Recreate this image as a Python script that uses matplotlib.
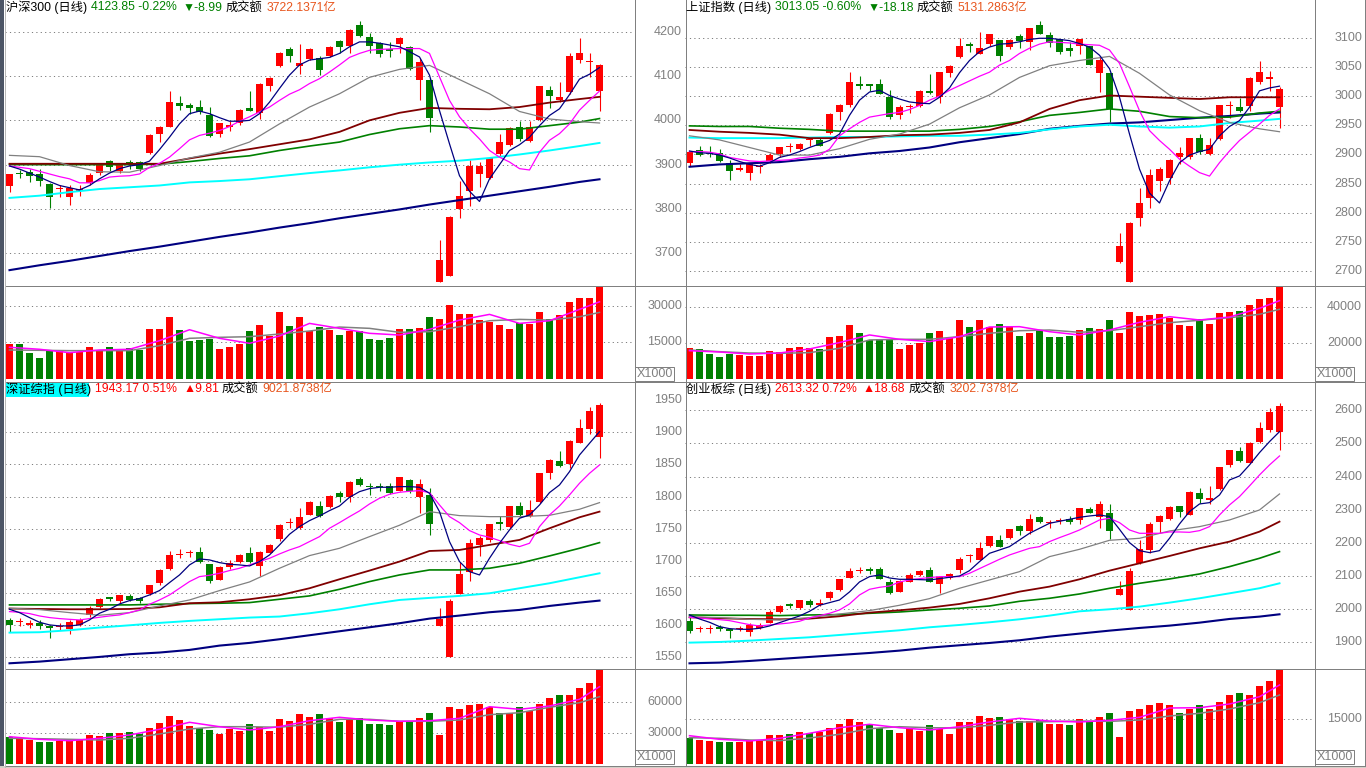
import numpy as np
import matplotlib
matplotlib.use('Agg')
import matplotlib.pyplot as plt
from matplotlib.lines import Line2D
from matplotlib.patches import Rectangle
from matplotlib.transforms import blended_transform_factory

plt.rcParams['font.family'] = ['Liberation Sans', 'Noto Sans CJK SC', 'DejaVu Sans']

W, H = 1366, 768

# sample positions (candle index) for the slow moving-average lines
ma_idx = [0, 3, 6, 9, 12, 15, 18, 21, 24, 27, 30, 33, 36, 39, 42, 45, 48, 51, 54, 57, 59]

# ---------------- 沪深300 ----------------
hs_open = [3851, 3882, 3883, 3878, 3857, 3845, 3827, 3840, 3859, 3882, 3908, 3886, 3905, 3906, 3927, 3970, 3986, 4039, 4034, 4031,
           4013, 3970, 3986, 3993, 4028, 4016, 4077, 4123, 4160, 4122, 4138, 4140, 4145, 4179, 4168, 4215, 4189, 4175, 4162, 4172,
           4166, 4092, 4092, 3636, 3649, 3800, 3840, 3878, 3870, 3924, 3945, 3986, 3954, 4001, 4069, 4046, 4064, 4136, 4131, 4066]
hs_high = [3879, 3888, 3891, 3891, 3859, 3853, 3853, 3855, 3882, 3903, 3910, 3903, 3910, 3908, 3969, 3988, 4067, 4056, 4039, 4047,
           4031, 3995, 3999, 4025, 4066, 4084, 4098, 4154, 4165, 4172, 4163, 4145, 4168, 4181, 4206, 4225, 4197, 4177, 4177, 4187,
           4167, 4141, 4095, 3729, 3785, 3863, 3910, 3907, 3917, 3969, 3984, 3999, 3999, 4078, 4077, 4086, 4152, 4186, 4152, 4126]
hs_low = [3838, 3870, 3860, 3851, 3802, 3827, 3809, 3829, 3855, 3877, 3885, 3882, 3891, 3885, 3925, 3952, 3985, 4024, 4015, 4015,
          3963, 3963, 3975, 3990, 4020, 4002, 4067, 4121, 4132, 4104, 4136, 4103, 4143, 4151, 4152, 4187, 4153, 4143, 4143, 4151,
          4113, 4045, 3973, 3635, 3648, 3780, 3806, 3850, 3868, 3917, 3942, 3954, 3952, 3999, 4028, 4041, 4060, 4130, 4098, 4022]
hs_close = [3878, 3878, 3874, 3863, 3827, 3848, 3848, 3846, 3877, 3901, 3895, 3899, 3901, 3891, 3967, 3986, 4041, 4033, 4028, 4018,
            3965, 3993, 3990, 4024, 4022, 4081, 4096, 4152, 4145, 4130, 4161, 4113, 4166, 4166, 4204, 4190, 4168, 4149, 4157, 4185,
            4115, 4131, 4005, 3686, 3783, 3829, 3897, 3897, 3914, 3952, 3983, 3959, 3986, 4077, 4056, 4052, 4145, 4151, 4133, 4124]
hs_vol = [14300, 14300, 10600, 8600, 11700, 11300, 11000, 11000, 13100, 11600, 13100, 12100, 12700, 11900, 20400, 20400, 25300, 20000, 15500, 15900,
          16300, 12300, 13100, 14300, 19600, 22100, 17600, 27400, 21700, 25300, 19600, 21300, 20000, 18000, 19800, 19800, 16300, 15900, 16800, 20400,
          20400, 20800, 25300, 24500, 30200, 26600, 26600, 24100, 23300, 22100, 20400, 22800, 22500, 27400, 24500, 26200, 31500, 33100, 33100, 37600]
hs_ma5 = [3897, 3890, 3881, 3872, 3862, 3853, 3848, 3843, 3853, 3868, 3881, 3891, 3897, 3900, 3908, 3934, 3962, 3992, 4015, 4021,
          4015, 4006, 3998, 3998, 4000, 4015, 4041, 4072, 4102, 4125, 4136, 4139, 4142, 4151, 4166, 4177, 4177, 4174, 4170, 4166,
          4155, 4143, 4102, 4022, 3947, 3875, 3840, 3817, 3868, 3900, 3932, 3945, 3962, 3988, 4011, 4026, 4058, 4093, 4104, 4119]
hs_ma10 = [3897, 3894, 3891, 3885, 3879, 3873, 3868, 3859, 3859, 3864, 3872, 3874, 3875, 3879, 3894, 3903, 3917, 3936, 3956, 3966,
           3971, 3977, 3986, 3998, 4008, 4019, 4030, 4045, 4059, 4069, 4083, 4094, 4109, 4125, 4142, 4151, 4158, 4160, 4161, 4162,
           4162, 4162, 4151, 4098, 4045, 4008, 3981, 3958, 3932, 3917, 3906, 3891, 3888, 3928, 3955, 3970, 3992, 4023, 4045, 4066]
hs_ma20 = [3921, 3918, 3898, 3884, 3883, 3898, 3915, 3928, 3951, 3992, 4030, 4060, 4097, 4115, 4124, 4092, 4060, 4020, 4003, 3997, 3994]
hs_ma30 = [3902, 3902, 3902, 3902, 3902, 3902, 3914, 3925, 3935, 3946, 3957, 3974, 4000, 4017, 4028, 4026, 4025, 4030, 4040, 4048, 4053]
hs_ma60 = [3900, 3900, 3900, 3900, 3900, 3901, 3907, 3914, 3920, 3932, 3942, 3951, 3968, 3981, 3988, 3985, 3980, 3980, 3988, 3996, 4004]
hs_ma120 = [3825, 3830, 3838, 3845, 3849, 3853, 3860, 3863, 3867, 3874, 3881, 3887, 3894, 3900, 3905, 3909, 3915, 3923, 3932, 3942, 3949]
hs_ma250 = [3662, 3673, 3683, 3694, 3705, 3715, 3726, 3737, 3747, 3758, 3768, 3779, 3789, 3799, 3810, 3820, 3830, 3840, 3850, 3861, 3867]
hs_vma5 = [12960, 12140, 10750, 11850, 12140, 15660, 20150, 16630, 14590, 17570, 22750, 20720, 18680, 17980, 20310, 24110, 26440, 22750, 23840, 28490, 31600]
hs_vma10 = [11850, 11720, 11580, 11580, 11580, 13620, 16630, 17040, 17300, 18390, 19620, 21250, 20720, 19090, 19350, 21390, 23840, 24390, 24110, 25460, 27250]

# ---------------- 上证指数 ----------------
sh_open = [2886, 2907, 2903, 2902, 2885, 2874, 2869, 2878, 2889, 2900, 2913, 2909, 2924, 2925, 2937, 2972, 2984, 3021, 3019, 3020,
           2999, 2967, 2981, 2983, 3009, 2998, 3039, 3067, 3090, 3072, 3089, 3096, 3084, 3103, 3093, 3122, 3105, 3097, 3082, 3086,
           3086, 3040, 3039, 2716, 2682, 2791, 2826, 2855, 2860, 2895, 2895, 2928, 2901, 2926, 2983, 2981, 2983, 3024, 3030, 2982]
sh_high = [2906, 2914, 2914, 2909, 2890, 2883, 2886, 2883, 2902, 2913, 2919, 2920, 2928, 2928, 2971, 2987, 3041, 3034, 3021, 3029,
           3010, 2984, 2987, 3010, 3037, 3042, 3053, 3100, 3093, 3109, 3107, 3096, 3098, 3106, 3117, 3129, 3109, 3097, 3093, 3097,
           3086, 3068, 3040, 2765, 2785, 2842, 2875, 2878, 2892, 2913, 2929, 2935, 2928, 2985, 2991, 2997, 3033, 3060, 3043, 3015]
sh_low = [2880, 2898, 2895, 2887, 2857, 2871, 2856, 2869, 2886, 2895, 2905, 2907, 2915, 2914, 2935, 2959, 2981, 3013, 3009, 3003,
          2961, 2961, 2971, 2981, 3004, 2988, 3032, 3066, 3076, 3072, 3086, 3060, 3080, 3083, 3079, 3106, 3084, 3072, 3068, 3072,
          3053, 3007, 2955, 2715, 2682, 2777, 2808, 2837, 2849, 2883, 2893, 2901, 2899, 2925, 2963, 2972, 2975, 3021, 3009, 2945]
sh_close = [2905, 2899, 2901, 2889, 2872, 2875, 2885, 2879, 2899, 2912, 2914, 2918, 2925, 2915, 2970, 2984, 3024, 3017, 3018, 3004,
            2964, 2982, 2982, 3009, 3005, 3041, 3051, 3086, 3086, 3083, 3106, 3069, 3096, 3095, 3116, 3107, 3091, 3075, 3078, 3097,
            3054, 3061, 2978, 2744, 2783, 2817, 2865, 2875, 2890, 2902, 2928, 2904, 2917, 2984, 2984, 2975, 3031, 3041, 3031, 3013]
sh_vol = [17200, 16700, 14100, 12200, 14100, 13500, 13100, 13100, 15900, 15000, 17200, 17800, 17200, 16700, 23300, 24100, 30200, 25600, 21800, 22200,
          22200, 16700, 19100, 20000, 25600, 26800, 22800, 33000, 29100, 33000, 28900, 30700, 28900, 24100, 25600, 27400, 23700, 23700, 24200, 27400,
          28700, 28000, 33000, 25900, 37400, 35200, 35700, 36300, 33900, 30200, 29600, 33500, 30700, 36800, 37400, 38000, 41300, 44600, 45200, 51300]
sh_ma5 = [2906, 2903, 2902, 2899, 2894, 2888, 2883, 2880, 2886, 2895, 2899, 2905, 2912, 2918, 2924, 2935, 2967, 2993, 3007, 3010,
          3001, 2995, 2990, 2988, 2987, 2998, 3014, 3040, 3061, 3076, 3084, 3089, 3090, 3093, 3097, 3099, 3099, 3097, 3095, 3090,
          3084, 3070, 3047, 2998, 2935, 2875, 2834, 2817, 2855, 2886, 2899, 2905, 2909, 2932, 2948, 2958, 2981, 3009, 3014, 3017]
sh_ma10 = [2905, 2905, 2904, 2901, 2895, 2892, 2889, 2888, 2889, 2890, 2891, 2894, 2896, 2899, 2909, 2932, 2944, 2955, 2964, 2967,
           2970, 2972, 2977, 2984, 2993, 3000, 3010, 3018, 3026, 3034, 3041, 3053, 3061, 3073, 3082, 3089, 3093, 3092, 3091, 3089,
           3088, 3087, 3079, 3056, 3016, 2975, 2941, 2924, 2909, 2892, 2880, 2869, 2863, 2886, 2906, 2924, 2938, 2952, 2967, 2978]
sh_ma20 = [2932, 2925, 2912, 2899, 2899, 2910, 2926, 2935, 2952, 2980, 3002, 3032, 3052, 3061, 3068, 3039, 3002, 2975, 2955, 2944, 2939]
sh_ma30 = [2942, 2939, 2937, 2934, 2928, 2928, 2930, 2933, 2934, 2937, 2942, 2955, 2978, 2993, 3001, 2999, 2997, 2995, 2998, 2998, 2998]
sh_ma60 = [2949, 2948, 2948, 2945, 2943, 2940, 2940, 2940, 2940, 2943, 2948, 2956, 2967, 2972, 2978, 2974, 2965, 2963, 2964, 2971, 2974]
sh_ma120 = [2929, 2928, 2928, 2928, 2929, 2930, 2930, 2931, 2932, 2932, 2934, 2937, 2943, 2948, 2951, 2948, 2946, 2948, 2954, 2958, 2961]
sh_ma250 = [2879, 2883, 2885, 2887, 2892, 2896, 2902, 2906, 2912, 2921, 2928, 2935, 2944, 2949, 2953, 2955, 2959, 2963, 2966, 2970, 2972]
sh_vma5 = [15890, 15170, 14060, 14610, 16870, 20400, 24630, 22220, 20930, 23700, 29060, 29240, 26450, 24630, 27400, 31660, 34780, 32950, 34600, 39440, 43670]
sh_vma10 = [16280, 15350, 14610, 14440, 14800, 17220, 21860, 22220, 22220, 23700, 25560, 27000, 27390, 26110, 27000, 29220, 31450, 32780, 34230, 36110, 38890]

# ---------------- 深证综指 ----------------
sz_open = [1608, 1605, 1601, 1603, 1598, 1597, 1594, 1600, 1616, 1629, 1644, 1638, 1645, 1642, 1649, 1665, 1687, 1709, 1712, 1714,
           1695, 1671, 1690, 1699, 1713, 1692, 1712, 1734, 1759, 1751, 1771, 1785, 1784, 1806, 1800, 1827, 1816, 1816, 1816, 1809,
           1826, 1799, 1803, 1599, 1550, 1649, 1682, 1725, 1732, 1759, 1752, 1785, 1770, 1791, 1837, 1855, 1851, 1884, 1905, 1893]
sz_high = [1611, 1611, 1608, 1608, 1600, 1603, 1608, 1611, 1630, 1642, 1644, 1647, 1649, 1644, 1663, 1687, 1716, 1718, 1717, 1721,
           1695, 1692, 1701, 1710, 1722, 1715, 1726, 1758, 1766, 1782, 1793, 1793, 1802, 1808, 1824, 1830, 1821, 1821, 1821, 1831,
           1827, 1827, 1813, 1626, 1640, 1699, 1734, 1739, 1758, 1770, 1786, 1792, 1795, 1837, 1858, 1871, 1888, 1920, 1939, 1945]
sz_low = [1590, 1598, 1595, 1594, 1580, 1593, 1586, 1599, 1613, 1626, 1637, 1633, 1638, 1635, 1647, 1663, 1686, 1704, 1706, 1697,
          1666, 1670, 1688, 1697, 1697, 1677, 1712, 1731, 1751, 1749, 1771, 1769, 1782, 1791, 1792, 1817, 1803, 1808, 1804, 1808,
          1806, 1775, 1740, 1599, 1550, 1648, 1669, 1707, 1730, 1748, 1751, 1768, 1769, 1790, 1827, 1846, 1844, 1883, 1897, 1860]
sz_close = [1600, 1606, 1602, 1599, 1595, 1598, 1605, 1608, 1627, 1641, 1641, 1647, 1639, 1637, 1662, 1686, 1709, 1710, 1713, 1699,
            1668, 1690, 1697, 1709, 1699, 1714, 1724, 1756, 1760, 1769, 1792, 1770, 1801, 1799, 1823, 1818, 1815, 1815, 1806, 1830,
            1808, 1820, 1757, 1609, 1638, 1680, 1728, 1736, 1757, 1758, 1785, 1771, 1779, 1836, 1857, 1847, 1887, 1906, 1933, 1943]
sz_vol = [25500, 23900, 22900, 21000, 21000, 22000, 22000, 23600, 27800, 26800, 30000, 30000, 30700, 28700, 34500, 39400, 46200, 42300, 36500, 34800,
          32600, 28700, 33300, 31900, 38400, 35800, 31600, 43300, 41300, 48100, 45200, 48100, 44500, 40600, 42300, 44500, 38400, 38400, 37500, 41600,
          40600, 44500, 49400, 27800, 55200, 52900, 56800, 57800, 55200, 48800, 49400, 55200, 51300, 57800, 63300, 66500, 66500, 73000, 77800, 90700]
sz_ma5 = [1624.7, 1619.5, 1611.8, 1604.5, 1600.4, 1598.8, 1598.8, 1600.4, 1608.1, 1618.5, 1624.7, 1633.0, 1638.2, 1641.3, 1647.0, 1653.8, 1666.2, 1678.1, 1693.7, 1703.0,
          1701.5, 1697.3, 1694.7, 1693.7, 1692.1, 1698.9, 1709.2, 1724.8, 1741.4, 1753.3, 1762.6, 1769.9, 1778.2, 1785.4, 1798.9, 1807.7, 1812.4, 1814.5, 1814.5, 1815.5,
          1815.5, 1814.5, 1805.1, 1776.6, 1729.9, 1698.9, 1683.3, 1678.1, 1704.1, 1727.4, 1748.1, 1766.3, 1771.4, 1787.0, 1806.2, 1818.1, 1838.8, 1864.7, 1882.9, 1901.0]
sz_ma10 = [1621.1, 1620.0, 1618.0, 1614.3, 1611.8, 1610.2, 1609.1, 1608.1, 1610.2, 1612.3, 1614.3, 1615.9, 1619.5, 1623.7, 1632.5, 1639.2, 1647.0, 1657.4, 1667.8, 1675.5,
           1677.6, 1680.7, 1684.9, 1688.5, 1693.7, 1698.9, 1704.0, 1710.8, 1717.0, 1722.2, 1730.0, 1737.7, 1750.7, 1759.5, 1768.8, 1777.7, 1788.5, 1797.4, 1803.6, 1806.7,
           1808.2, 1809.3, 1806.2, 1787.0, 1768.8, 1759.5, 1747.1, 1740.3, 1736.7, 1731.5, 1725.8, 1722.2, 1727.4, 1753.3, 1771.4, 1785.4, 1802.5, 1820.7, 1836.2, 1849.2]
sz_ma20 = [1626.3, 1624.2, 1619.5, 1615.4, 1619.5, 1629.9, 1639.2, 1653.8, 1667.2, 1688.5, 1708.2, 1719.6, 1737.7, 1755.4, 1776.6, 1770.4, 1768.8, 1768.8, 1770.9, 1780.3, 1790.6]
sz_ma30 = [1625.8, 1625.2, 1624.7, 1624.7, 1625.2, 1627.8, 1634.1, 1635.6, 1640.3, 1646.5, 1657.4, 1671.4, 1684.9, 1698.9, 1715.4, 1717.0, 1724.8, 1732.6, 1750.7, 1767.8, 1776.6]
sz_ma60 = [1631.5, 1631.5, 1631.5, 1631.5, 1631.5, 1632.5, 1633.5, 1634.1, 1635.1, 1640.3, 1645.5, 1655.8, 1667.8, 1678.1, 1685.9, 1685.9, 1688.5, 1696.3, 1707.7, 1719.6, 1728.4]
sz_ma120 = [1588.4, 1589.0, 1592.1, 1596.3, 1599.8, 1603.5, 1606.6, 1609.2, 1611.8, 1613.4, 1618.5, 1624.7, 1632.5, 1639.2, 1642.4, 1645.5, 1649.6, 1657.4, 1665.2, 1674.5, 1680.7]
sz_ma250 = [1540.7, 1543.3, 1547.0, 1550.6, 1554.8, 1557.4, 1561.5, 1568.2, 1572.4, 1578.1, 1584.3, 1590.5, 1596.7, 1603.0, 1610.2, 1614.9, 1620.1, 1623.7, 1629.9, 1635.1, 1638.2]
sz_vma5 = [26130, 23610, 22260, 24580, 27770, 33290, 40060, 35810, 32610, 35810, 41610, 44900, 42290, 41030, 41610, 43930, 55160, 52640, 55840, 62320, 74510]
sz_vma10 = [24580, 24190, 23610, 22930, 24580, 28740, 33580, 35810, 35810, 35230, 38130, 42960, 42960, 41030, 41030, 42290, 47420, 49350, 54580, 59030, 64840]

# ---------------- 创业板综 ----------------
cy_open = [1965, 1941, 1941, 1945, 1939, 1941, 1932, 1942, 1959, 1992, 2016, 2003, 2026, 2012, 2033, 2058, 2095, 2114, 2121, 2120,
           2083, 2053, 2083, 2103, 2118, 2076, 2093, 2118, 2160, 2148, 2192, 2209, 2214, 2251, 2237, 2279, 2260, 2265, 2271, 2269,
           2301, 2279, 2289, 2043, 1998, 2138, 2177, 2264, 2271, 2311, 2284, 2350, 2329, 2362, 2435, 2477, 2442, 2503, 2541, 2536]
cy_high = [1978, 1949, 1952, 1952, 1942, 1948, 1957, 1959, 1996, 2013, 2018, 2029, 2030, 2030, 2054, 2092, 2123, 2126, 2128, 2128,
           2090, 2087, 2110, 2117, 2126, 2097, 2110, 2156, 2167, 2202, 2222, 2224, 2242, 2254, 2287, 2282, 2269, 2274, 2281, 2306,
           2309, 2327, 2317, 2085, 2123, 2209, 2262, 2284, 2310, 2311, 2355, 2365, 2372, 2429, 2481, 2490, 2505, 2566, 2606, 2621]
cy_low = [1927, 1932, 1929, 1935, 1912, 1934, 1919, 1939, 1957, 1988, 2003, 2000, 2008, 2010, 2028, 2056, 2093, 2108, 2106, 2090,
          2046, 2051, 2081, 2101, 2081, 2050, 2090, 2110, 2143, 2148, 2189, 2187, 2211, 2224, 2227, 2261, 2244, 2257, 2257, 2257,
          2289, 2244, 2211, 2043, 1998, 2135, 2169, 2229, 2270, 2279, 2283, 2321, 2317, 2361, 2428, 2445, 2440, 2500, 2536, 2480]
cy_close = [1935, 1942, 1943, 1941, 1935, 1942, 1952, 1952, 1990, 2010, 2010, 2028, 2013, 2018, 2053, 2091, 2116, 2115, 2116, 2092,
            2048, 2085, 2103, 2115, 2083, 2096, 2106, 2150, 2161, 2184, 2221, 2189, 2241, 2237, 2271, 2264, 2261, 2266, 2264, 2304,
            2291, 2316, 2237, 2060, 2116, 2181, 2257, 2281, 2309, 2294, 2354, 2331, 2336, 2428, 2480, 2448, 2502, 2546, 2595, 2613]
cy_vol = [8780, 8010, 7670, 7330, 7330, 7430, 8010, 7670, 9690, 9690, 10030, 10710, 10370, 10710, 12060, 13410, 15000, 14090, 13070, 11960,
          11410, 10470, 11620, 11150, 13070, 11620, 10130, 14090, 14090, 16110, 15440, 15780, 15100, 14420, 14420, 14760, 13410, 13410, 13070, 15000,
          14190, 15780, 17230, 9020, 17800, 18480, 19830, 20500, 19830, 17030, 18480, 19830, 18480, 20840, 23210, 23880, 23210, 26250, 27940, 31650]
cy_ma5 = [1982.5, 1970.4, 1960.4, 1947.3, 1941.2, 1939.2, 1939.2, 1942.3, 1949.3, 1959.3, 1969.4, 1979.4, 1993.5, 2011.7, 2019.7, 2027.7, 2051.9, 2082.1, 2098.1, 2103.2,
          2094.1, 2090.1, 2090.1, 2089.1, 2088.1, 2092.1, 2096.1, 2100.1, 2116.2, 2143.4, 2168.5, 2178.6, 2188.7, 2208.8, 2228.9, 2244.0, 2259.1, 2265.1, 2271.1, 2277.2,
          2281.2, 2284.2, 2279.2, 2240.9, 2200.7, 2176.6, 2170.6, 2176.6, 2213.8, 2257.1, 2294.3, 2317.4, 2321.4, 2344.5, 2389.8, 2401.9, 2435.1, 2472.3, 2505.5, 2535.6]
cy_ma10 = [1975.4, 1973.4, 1970.4, 1968.4, 1965.4, 1959.3, 1953.3, 1949.3, 1952.3, 1955.3, 1958.3, 1963.4, 1973.4, 1980.5, 1987.5, 1997.6, 2015.7, 2042.8, 2059.9, 2065.9,
           2069.9, 2082.0, 2088.1, 2092.1, 2095.1, 2098.1, 2098.1, 2098.1, 2108.2, 2122.3, 2136.4, 2150.4, 2163.5, 2173.6, 2183.6, 2188.7, 2203.8, 2215.8, 2226.9, 2238.9,
           2254.0, 2269.1, 2274.1, 2261.1, 2238.9, 2228.9, 2228.9, 2228.9, 2232.9, 2232.9, 2231.9, 2236.9, 2249.0, 2284.2, 2314.4, 2339.5, 2371.7, 2404.9, 2435.1, 2462.2]
cy_ma20 = [1977.5, 1974.4, 1969.4, 1967.4, 1974.4, 1985.5, 1995.6, 2011.7, 2031.8, 2063.1, 2088.1, 2113.2, 2158.5, 2180.6, 2207.8, 2213.8, 2235.9, 2249.0, 2269.1, 2299.3, 2347.6]
cy_ma30 = [1975.4, 1972.4, 1970.4, 1969.4, 1971.4, 1978.5, 1989.5, 1996.6, 2004.6, 2015.7, 2032.8, 2052.9, 2068.0, 2090.1, 2116.2, 2138.4, 2160.5, 2183.6, 2203.8, 2233.9, 2264.1]
cy_ma60 = [1982.5, 1981.5, 1981.5, 1980.5, 1982.5, 1983.5, 1987.5, 1991.5, 1997.6, 2002.6, 2009.6, 2023.7, 2032.8, 2045.8, 2062.9, 2078.0, 2091.1, 2106.2, 2128.3, 2153.5, 2173.6]
cy_ma120 = [1899.0, 1901.0, 1905.0, 1910.1, 1915.1, 1922.1, 1929.2, 1936.2, 1945.3, 1952.3, 1960.4, 1969.4, 1980.5, 1993.5, 1999.6, 2007.6, 2019.7, 2032.8, 2047.8, 2063.1, 2078.0]
cy_ma250 = [1836.6, 1838.7, 1843.7, 1849.7, 1855.8, 1861.8, 1867.8, 1874.9, 1883.9, 1891.0, 1898.0, 1906.1, 1917.1, 1926.2, 1935.2, 1943.3, 1950.3, 1959.3, 1970.4, 1977.5, 1984.5]
cy_vma5 = [9460, 8240, 7670, 8580, 10270, 12160, 13310, 12160, 11380, 12500, 14090, 15340, 14420, 14090, 14660, 15670, 18820, 18920, 20170, 22630, 26590]
cy_vma10 = [8780, 8580, 8010, 7780, 8680, 9930, 11820, 12500, 12160, 12060, 12970, 14090, 14190, 14420, 14300, 14760, 16110, 17030, 18480, 20610, 23210]

# headline texts
hs_title = ['沪深300 (日线)', '4123.85 -0.22%', '▼-8.99', '成交额', '3722.1371亿']
sh_title = ['上证指数 (日线)', '3013.05 -0.60%', '▼-18.18', '成交额', '5131.2863亿']
sz_title = ['深证综指 (日线)', '1943.17 0.51%', '▲9.81', '成交额', '9021.8738亿']
cy_title = ['创业板综 (日线)', '2613.32 0.72%', '▲18.68', '成交额', '3202.7378亿']

hs_ticks = [4200, 4100, 4000, 3900, 3800, 3700]
sh_ticks = [3100, 3050, 3000, 2950, 2900, 2850, 2800, 2750, 2700]
sz_ticks = [1950, 1900, 1850, 1800, 1750, 1700, 1650, 1600, 1550]
cy_ticks = [2600, 2500, 2400, 2300, 2200, 2100, 2000, 1900]
hs_vticks = [30000, 15000]
sh_vticks = [40000, 20000]
sz_vticks = [60000, 30000]
cy_vticks = [15000]

UP = '#ff0000'
DOWN = '#008000'
GRID = '#808080'
AMT = '#e8561e'
PX = 0.72  # one pixel in points

fig = plt.figure(figsize=(W / 100, H / 100), dpi=100)
fig.patch.set_facecolor('white')


def box(x0, y0, x1, y1):
    return [x0 / W, 1 - y1 / H, (x1 - x0) / W, (y1 - y0) / H]


def scale(v1, y1, v2, y2, ytop, ybot):
    s = (y2 - y1) / (v1 - v2)
    return v1 - (ybot - y1) / s, v1 + (y1 - ytop) / s, s


def dotted(ax, vals):
    for v in vals:
        ax.axhline(v, color=GRID, lw=PX, ls=(0, (1.2, 3.2)), zorder=1)


def labels(ax, vals, xr):
    tr = blended_transform_factory(fig.transFigure, ax.transData)
    for v in vals:
        ax.text(xr / W, v, str(v), transform=tr, ha='right', va='center',
                fontsize=9, color=GRID, clip_on=False)


def panel(x0, x1, yt, ym, yb, o, h, l, c, v, ma5, ma10, longs, vma5, vma10,
          pref, vref, ticks, grids, vticks, xr):
    x = np.arange(len(c))
    o, h, l, c = map(np.asarray, (o, h, l, c))
    col = np.where(c >= o, UP, DOWN)

    ax = fig.add_axes(box(x0, yt, x1, ym))
    lo, hi, s = scale(*pref, yt, ym)
    ax.set_ylim(lo, hi)
    ax.set_xlim(-0.45, 62.45)
    ax.axis('off')
    dotted(ax, grids)
    ax.vlines(x, l, h, colors=col, lw=PX * 1.1, zorder=3)
    ax.bar(x, np.maximum(np.abs(c - o), 1.2 / s), bottom=np.minimum(o, c),
           width=0.7, color=col, lw=0, zorder=4)
    ma20, ma30, ma60, ma120, ma250 = longs
    ax.plot(ma_idx, ma250, color='#000080', lw=1.5, zorder=5)
    ax.plot(ma_idx, ma120, color='#00ffff', lw=1.4, zorder=5)
    ax.plot(ma_idx, ma60, color='#008000', lw=1.2, zorder=5)
    ax.plot(ma_idx, ma30, color='#800000', lw=1.3, zorder=5)
    ax.plot(ma_idx, ma20, color='#808080', lw=0.9, zorder=5)
    ax.plot(x, ma10, color='#ff00ff', lw=0.9, zorder=6)
    ax.plot(x, ma5, color='#000080', lw=0.9, zorder=6)
    labels(ax, ticks, xr)

    av = fig.add_axes(box(x0, ym, x1, yb))
    lo, hi, s = scale(*vref, ym, yb)
    av.set_ylim(lo, hi)
    av.set_xlim(-0.45, 62.45)
    av.axis('off')
    dotted(av, vticks)
    av.bar(x, v, width=0.7, color=col, lw=0, zorder=3)
    av.plot(ma_idx, vma10, color='#808080', lw=1.1, zorder=4)
    av.plot(ma_idx, vma5, color='#ff00ff', lw=1.1, zorder=5)
    labels(av, vticks, xr)


# 沪深300 (top left)
panel(5, 634, 0, 285, 381, hs_open, hs_high, hs_low, hs_close, hs_vol, hs_ma5, hs_ma10,
      (hs_ma20, hs_ma30, hs_ma60, hs_ma120, hs_ma250), hs_vma5, hs_vma10,
      (4200, 31.7, 3700, 253.3), (30000, 305.7, 15000, 342.3), hs_ticks, hs_ticks, hs_vticks, 682)
# 上证指数 (top right)
panel(685, 1314, 0, 285, 381, sh_open, sh_high, sh_low, sh_close, sh_vol, sh_ma5, sh_ma10,
      (sh_ma20, sh_ma30, sh_ma60, sh_ma120, sh_ma250), sh_vma5, sh_vma10,
      (3100, 37.7, 2700, 271.3), (40000, 307.3, 20000, 343.3), sh_ticks, sh_ticks, sh_vticks, 1362)
# 深证综指 (bottom left)
panel(5, 634, 381, 668, 765, sz_open, sz_high, sz_low, sz_close, sz_vol, sz_ma5, sz_ma10,
      (sz_ma20, sz_ma30, sz_ma60, sz_ma120, sz_ma250), sz_vma5, sz_vma10,
      (1900, 432.3, 1550, 657.3), (60000, 701.7, 30000, 732.7), sz_ticks, sz_ticks[1:], sz_vticks, 682)
# 创业板综 (bottom right)
panel(685, 1314, 381, 668, 765, cy_open, cy_high, cy_low, cy_close, cy_vol, cy_ma5, cy_ma10,
      (cy_ma20, cy_ma30, cy_ma60, cy_ma120, cy_ma250), cy_vma5, cy_vma10,
      (2600, 410.3, 1900, 642.3), (15000, 719.3, 0, 763.7), cy_ticks, cy_ticks, cy_vticks, 1362)

# headlines: pieces laid out one after another
fig.add_artist(Rectangle((5 / W, 1 - 397 / H), 84 / W, 15 / H, transform=fig.transFigure,
                         color='#00ffff', lw=0, zorder=0))
renderer = fig.canvas.get_renderer()
gaps = [4, 6, 3, 4, 0]
for title, x_start, yc, c2 in [(hs_title, 6, 7.5, DOWN), (sh_title, 686, 7.5, DOWN),
                               (sz_title, 6, 389, UP), (cy_title, 686, 389, UP)]:
    cols = ['black', c2, c2, 'black', AMT]
    xp = x_start
    for t, cc, g in zip(title, cols, gaps):
        tx = fig.text(xp / W, 1 - yc / H, t, ha='left', va='center', fontsize=8.8, color=cc)
        xp = tx.get_window_extent(renderer).x1 + g

# frame lines
def hline(y, x0=0, x1=W, color='#808080'):
    fig.add_artist(Line2D([x0 / W, x1 / W], [1 - y / H, 1 - y / H], transform=fig.transFigure,
                          color=color, lw=PX))


def vline(x, y0=0, y1=H, color='#808080'):
    fig.add_artist(Line2D([x / W, x / W], [1 - y0 / H, 1 - y1 / H], transform=fig.transFigure,
                          color=color, lw=PX))


for yy in (285.5, 381.5, 668.5, 765.5):
    hline(yy, 5)
for xx in (634.5, 685.5, 1314.5, 1365.3):
    vline(xx, 0, 766)

# X1000 unit boxes
for bx, by in [(635, 367), (1315, 367), (635, 750), (1315, 750)]:
    fig.add_artist(Rectangle((bx / W, 1 - (by + 14) / H), 39 / W, 14 / H, transform=fig.transFigure,
                             fill=False, edgecolor=GRID, lw=PX))
    fig.text((bx + 19.5) / W, 1 - (by + 7.3) / H, 'X1000', ha='center', va='center',
             fontsize=9, color=GRID)

# window edge strips
fig.add_artist(Rectangle((0, 0), 4 / W, 1, transform=fig.transFigure, color='#4c5566', lw=0))
vline(4.5, 0, H, '#b8b8b8')
fig.add_artist(Rectangle((0, 0), 1, 2 / H, transform=fig.transFigure, color='#d4d0c8', lw=0))

fig.savefig('out.png', dpi=100)
